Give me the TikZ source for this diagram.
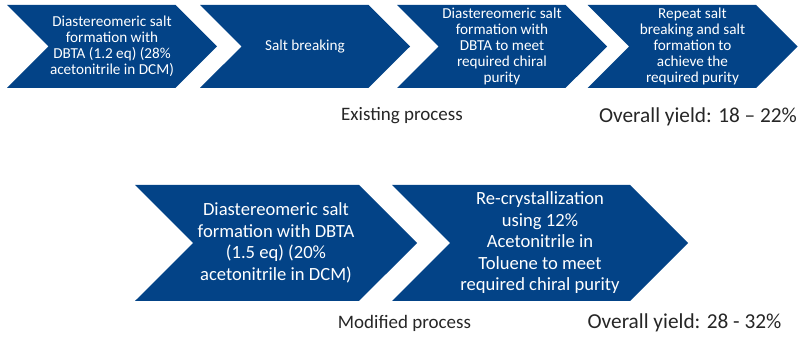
\documentclass[tikz,border=0pt]{standalone}
\usepackage{fontspec}
\setmainfont{Carlito}
\definecolor{processBlue}{HTML}{034387}
\definecolor{captionGray}{HTML}{262626}
\usetikzlibrary{shapes.symbols, positioning}
\begin{document}
\begin{tikzpicture}[
    x=1pt, y=-1pt,
    stage/.style={signal, signal from=west, signal to=east, signal pointer angle=90,
                  fill=processBlue, text=white, inner sep=0pt, align=center,
                  minimum width=210pt, minimum height=83pt, font=\fontsize{15.2}{16}\selectfont},
    bigstage/.style={stage, minimum height=116pt, font=\fontsize{18.6}{21.5}\selectfont},
    caption/.style={font=\fontsize{19}{22}\selectfont, text=captionGray},
    yield/.style={caption, font=\fontsize{21.3}{25}\selectfont}
  ]
  \useasboundingbox (0,0) rectangle (807,339);
  % existing process
  \node[stage] (e1) at (112,46.5) {Diastereomeric salt\\formation with\\DBTA (1.2 eq) (28\%\\acetonitrile in DCM)};
  \node[stage] (e2) at (305,46.5) {Salt breaking};
  \node[stage] (e3) at (502,46.5) {Diastereomeric salt\\formation with\\DBTA to meet\\required chiral\\purity};
  \node[stage] (e4) at (692.5,46.5) {Repeat salt\\breaking and salt\\formation to\\achieve the\\required purity};
  \node[caption] (elabel) at (402,116) {Existing process};
  \node[yield] (eyield) at (698,117) {Overall yield: 18 -- 22\%};
  % modified process
  \node[bigstage, minimum width=282pt] (m1) at (276,243) {Diastereomeric salt\\formation with DBTA\\(1.5 eq) (20\%\\acetonitrile in DCM)};
  \node[bigstage, minimum width=296pt] (m2) at (540,243) {Re-crystallization\\using 12\%\\Acetonitrile in\\Toluene to meet\\required chiral purity};
  \node[caption] (mlabel) at (404.5,323) {Modified process};
  \node[yield] (myield) at (684.5,323) {Overall yield: 28 - 32\%};
\end{tikzpicture}
\end{document}
